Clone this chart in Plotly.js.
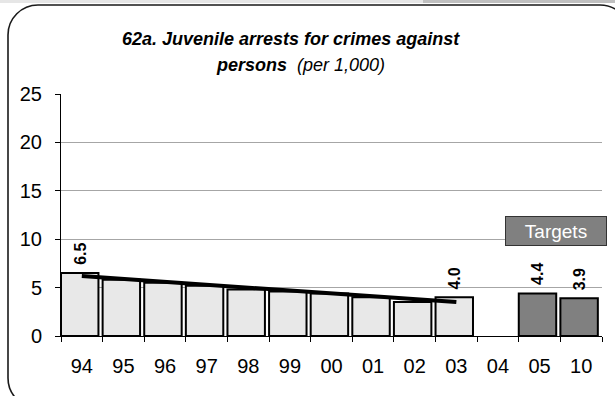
<!DOCTYPE html>
<html>
<head>
<meta charset="utf-8">
<script src="https://cdn.plot.ly/plotly-3.0.1.min.js"></script>
<style>
  html, body { margin: 0; padding: 0; background: #ffffff; }
  #chart { width: 615px; height: 396px; }
</style>
</head>
<body>
<div id="chart"></div>
<script>
// ---- data ----
const categories = ['94','95','96','97','98','99','00','01','02','03','04','05','10'];
const actualCats = ['94','95','96','97','98','99','00','01','02','03'];
const actualValues = [6.5, 5.8, 5.5, 5.2, 4.8, 4.6, 4.4, 4.0, 3.5, 4.0];
const actualLabels = ['6.5','','','','','','','','','4.0'];
const targetCats = ['05','10'];
const targetValues = [4.4, 3.9];
const targetLabels = ['4.4','3.9'];
const trendCats = ['94','03'];
const trendValues = [6.2, 3.5];
const yTicks = [0, 5, 10, 15, 20, 25];

// ---- geometry helpers (decoration only) ----
const W = 615, H = 396;
const M = {l: 61, r: 13, t: 94, b: 60};
const PW = W - M.l - M.r, PH = H - M.t - M.b;
const px = x => (x - M.l) / PW;
const py = y => (H - M.b - y) / PH;
const pt = (x, y) => px(x).toFixed(5) + ',' + py(y).toFixed(5);

function roundRect(x0, y0, x1, y1, r) {
  const k = 0.5523 * r;
  return 'M' + pt(x0 + r, y0) +
    ' L' + pt(x1 - r, y0) +
    ' C' + pt(x1 - r + k, y0) + ' ' + pt(x1, y0 + r - k) + ' ' + pt(x1, y0 + r) +
    ' L' + pt(x1, y1 - r) +
    ' C' + pt(x1, y1 - r + k) + ' ' + pt(x1 - r + k, y1) + ' ' + pt(x1 - r, y1) +
    ' L' + pt(x0 + r, y1) +
    ' C' + pt(x0 + r - k, y1) + ' ' + pt(x0, y1 - r + k) + ' ' + pt(x0, y1 - r) +
    ' L' + pt(x0, y0 + r) +
    ' C' + pt(x0, y0 + r - k) + ' ' + pt(x0 + r - k, y0) + ' ' + pt(x0 + r, y0) + ' Z';
}

const FONT = 'Liberation Sans, Arial, sans-serif';

const barWidth = 0.9;
const barOffset = -0.5;

const traces = [
  {
    type: 'bar', x: actualCats, y: actualValues,
    width: barWidth, offset: barOffset,
    marker: {color: '#e8e8e8', line: {color: '#000000', width: 2}},
    hoverinfo: 'skip', showlegend: false
  },
  {
    type: 'bar', x: targetCats, y: targetValues,
    width: barWidth, offset: barOffset,
    marker: {color: '#808080', line: {color: '#000000', width: 2}},
    hoverinfo: 'skip', showlegend: false
  },
  {
    type: 'scatter', mode: 'lines', x: trendCats, y: trendValues,
    line: {color: '#000000', width: 4},
    hoverinfo: 'skip', showlegend: false, cliponaxis: false
  }
];

const annotations = [];
function addLabels(cats, vals, labels) {
  cats.forEach((c, i) => {
    if (!labels[i]) return;
    annotations.push({
      x: categories.indexOf(c) + barOffset + barWidth / 2, y: vals[i], xref: 'x', yref: 'y',
      text: '<b>' + labels[i] + '</b>', showarrow: false,
      textangle: -90, xanchor: 'center', yanchor: 'bottom',
      yshift: 6,
      font: {family: FONT, size: 16, color: '#000000'}
    });
  });
}
addLabels(actualCats, actualValues, actualLabels);
addLabels(targetCats, targetValues, targetLabels);

// title lines
annotations.push({
  xref: 'paper', yref: 'paper', x: px(291), y: py(39),
  xanchor: 'center', yanchor: 'middle', showarrow: false,
  text: '<b><i>62a. Juvenile arrests for crimes against</i></b>',
  font: {family: FONT, size: 18, color: '#000000'}
});
annotations.push({
  xref: 'paper', yref: 'paper', x: px(300), y: py(65),
  xanchor: 'center', yanchor: 'middle', showarrow: false,
  text: '<b><i>persons</i></b>&nbsp; <i>(per 1,000)</i>',
  font: {family: FONT, size: 18, color: '#000000'}
});
// Targets box
annotations.push({
  xref: 'paper', yref: 'paper', x: px(556), y: py(230.5),
  xanchor: 'center', yanchor: 'middle', showarrow: false,
  text: 'Targets', width: 100, height: 28, borderpad: 0,
  bgcolor: '#808080', bordercolor: '#333333', borderwidth: 1,
  font: {family: FONT, size: 19, color: '#ffffff'}
});

const shapes = [
  {type: 'rect', xref: 'paper', yref: 'paper', x0: px(0), x1: px(423), y0: py(0), y1: py(3),
   fillcolor: '#e6e6e6', line: {width: 0}, layer: 'below'},
  {type: 'rect', xref: 'paper', yref: 'paper', x0: px(423), x1: px(615), y0: py(0), y1: py(3),
   fillcolor: '#c0c0c0', line: {width: 0}, layer: 'below'},
  {type: 'path', xref: 'paper', yref: 'paper', path: roundRect(8, 5, 630, 408, 30),
   line: {color: '#1a1a1a', width: 1.6}, fillcolor: 'rgba(0,0,0,0)', layer: 'above'}
];

const layout = {
  width: W, height: H,
  margin: M,
  paper_bgcolor: '#ffffff', plot_bgcolor: '#ffffff',
  showlegend: false,
  bargap: 0.1,
  font: {family: FONT, color: '#000000'},
  xaxis: {
    type: 'category', categoryorder: 'array', categoryarray: categories,
    range: [-0.5, categories.length - 0.5],
    tickson: 'boundaries', ticks: 'outside', ticklen: 5, tickcolor: '#000000', tickwidth: 1,
    showline: true, linecolor: '#000000', linewidth: 1,
    showgrid: false, zeroline: false,
    ticklabelstandoff: 12,
    tickfont: {family: FONT, size: 20, color: '#000000'},
    fixedrange: true
  },
  yaxis: {
    range: [0, 25], tickvals: yTicks, ticktext: yTicks.map(String),
    ticks: 'outside', ticklen: 5, tickcolor: '#000000', tickwidth: 1,
    showline: true, linecolor: '#000000', linewidth: 1,
    showgrid: true, gridcolor: '#a6a6a6', gridwidth: 1,
    zeroline: false,
    ticklabelstandoff: 9,
    tickfont: {family: FONT, size: 20, color: '#000000'},
    fixedrange: true
  },
  annotations: annotations,
  shapes: shapes
};

Plotly.newPlot('chart', traces, layout, {displayModeBar: false, staticPlot: true});
</script>
</body>
</html>
